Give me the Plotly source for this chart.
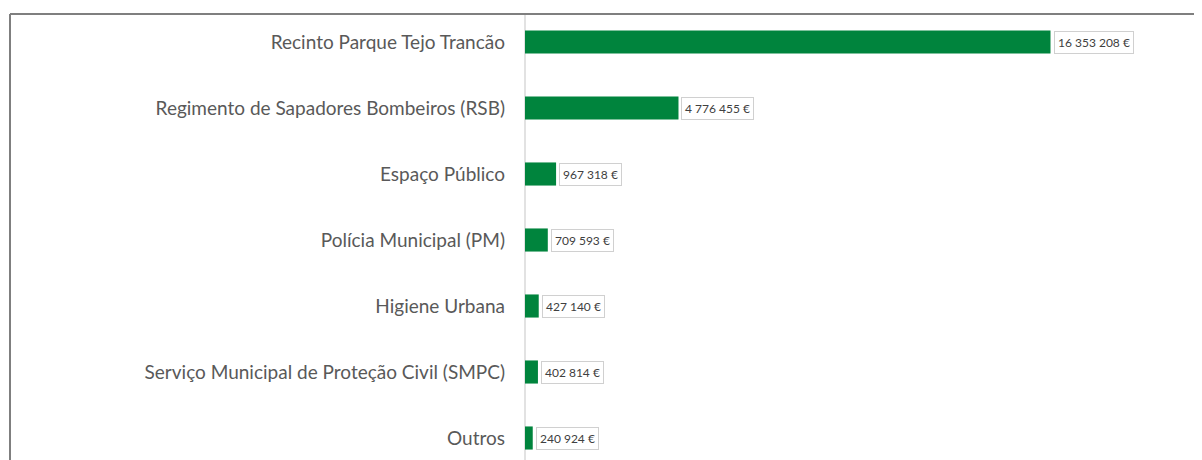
import plotly.graph_objects as go

categories = [
    "Recinto Parque Tejo Trancão",
    "Regimento de Sapadores Bombeiros (RSB)",
    "Espaço Público",
    "Polícia Municipal (PM)",
    "Higiene Urbana",
    "Serviço Municipal de Proteção Civil (SMPC)",
    "Outros",
]
values = [16353208, 4776455, 967318, 709593, 427140, 402814, 240924]
value_labels = ["16 353 208 €", "4 776 455 €", "967 318 €", "709 593 €",
                "427 140 €", "402 814 €", "240 924 €"]

# page body has an 8px default margin; compensate
OFF = 8
W, H = 1202 - OFF, 460 - OFF
ML, MR = 525 - OFF, 4
plot_w = W - ML - MR
px_per_unit = 525.5 / values[0]
xmax = plot_w / px_per_unit

row_px = 66.0
first_center = 42.0 - OFF
r_top = -first_center / row_px
r_bottom = r_top + H / row_px

fig = go.Figure()
fig.add_trace(go.Bar(
    y=categories, x=values, orientation="h",
    marker=dict(color="#00843D", line=dict(width=0)),
    width=0.35,
    hoverinfo="skip",
))

for c, v, lab in zip(categories, values, value_labels):
    fig.add_annotation(
        x=v, y=c, xref="x", yref="y", text=lab, showarrow=False,
        xanchor="left", yanchor="middle", xshift=3,
        font=dict(family="Lato, Carlito, sans-serif", size=12, color="#404040"),
        bgcolor="white", bordercolor="#D0D0D0", borderwidth=1, borderpad=3,
    )

# frame (top and left lines)
x_left = (10 - OFF - ML) / plot_w
y_top = 1 - (14 - OFF) / H
# category axis line (starts at frame top)
fig.add_shape(type="line", xref="paper", yref="paper",
              x0=0, x1=0, y0=-0.1, y1=y_top,
              line=dict(color="#D9D9D9", width=1.5), layer="below")
fig.add_shape(type="line", xref="paper", yref="paper",
              x0=x_left, x1=(W - ML) / plot_w, y0=y_top, y1=y_top,
              line=dict(color="#7F7F7F", width=2))
fig.add_shape(type="line", xref="paper", yref="paper",
              x0=x_left, x1=x_left, y0=-0.1, y1=y_top,
              line=dict(color="#7F7F7F", width=2))

fig.update_layout(
    width=W, height=H,
    margin=dict(l=ML, r=MR, t=0, b=0),
    plot_bgcolor="white", paper_bgcolor="white",
    showlegend=False,
    font=dict(family="Lato, Carlito, sans-serif", color="#595959"),
)
fig.update_xaxes(range=[0, xmax], visible=False, fixedrange=True)
fig.update_yaxes(
    type="category", range=[r_bottom, r_top],
    showline=False,
    ticks="", showgrid=False, automargin=False,
    tickfont=dict(family="Lato, Carlito, sans-serif", size=19, color="#595959"),
    ticklabelstandoff=19,
)

fig.write_html("out.html")
